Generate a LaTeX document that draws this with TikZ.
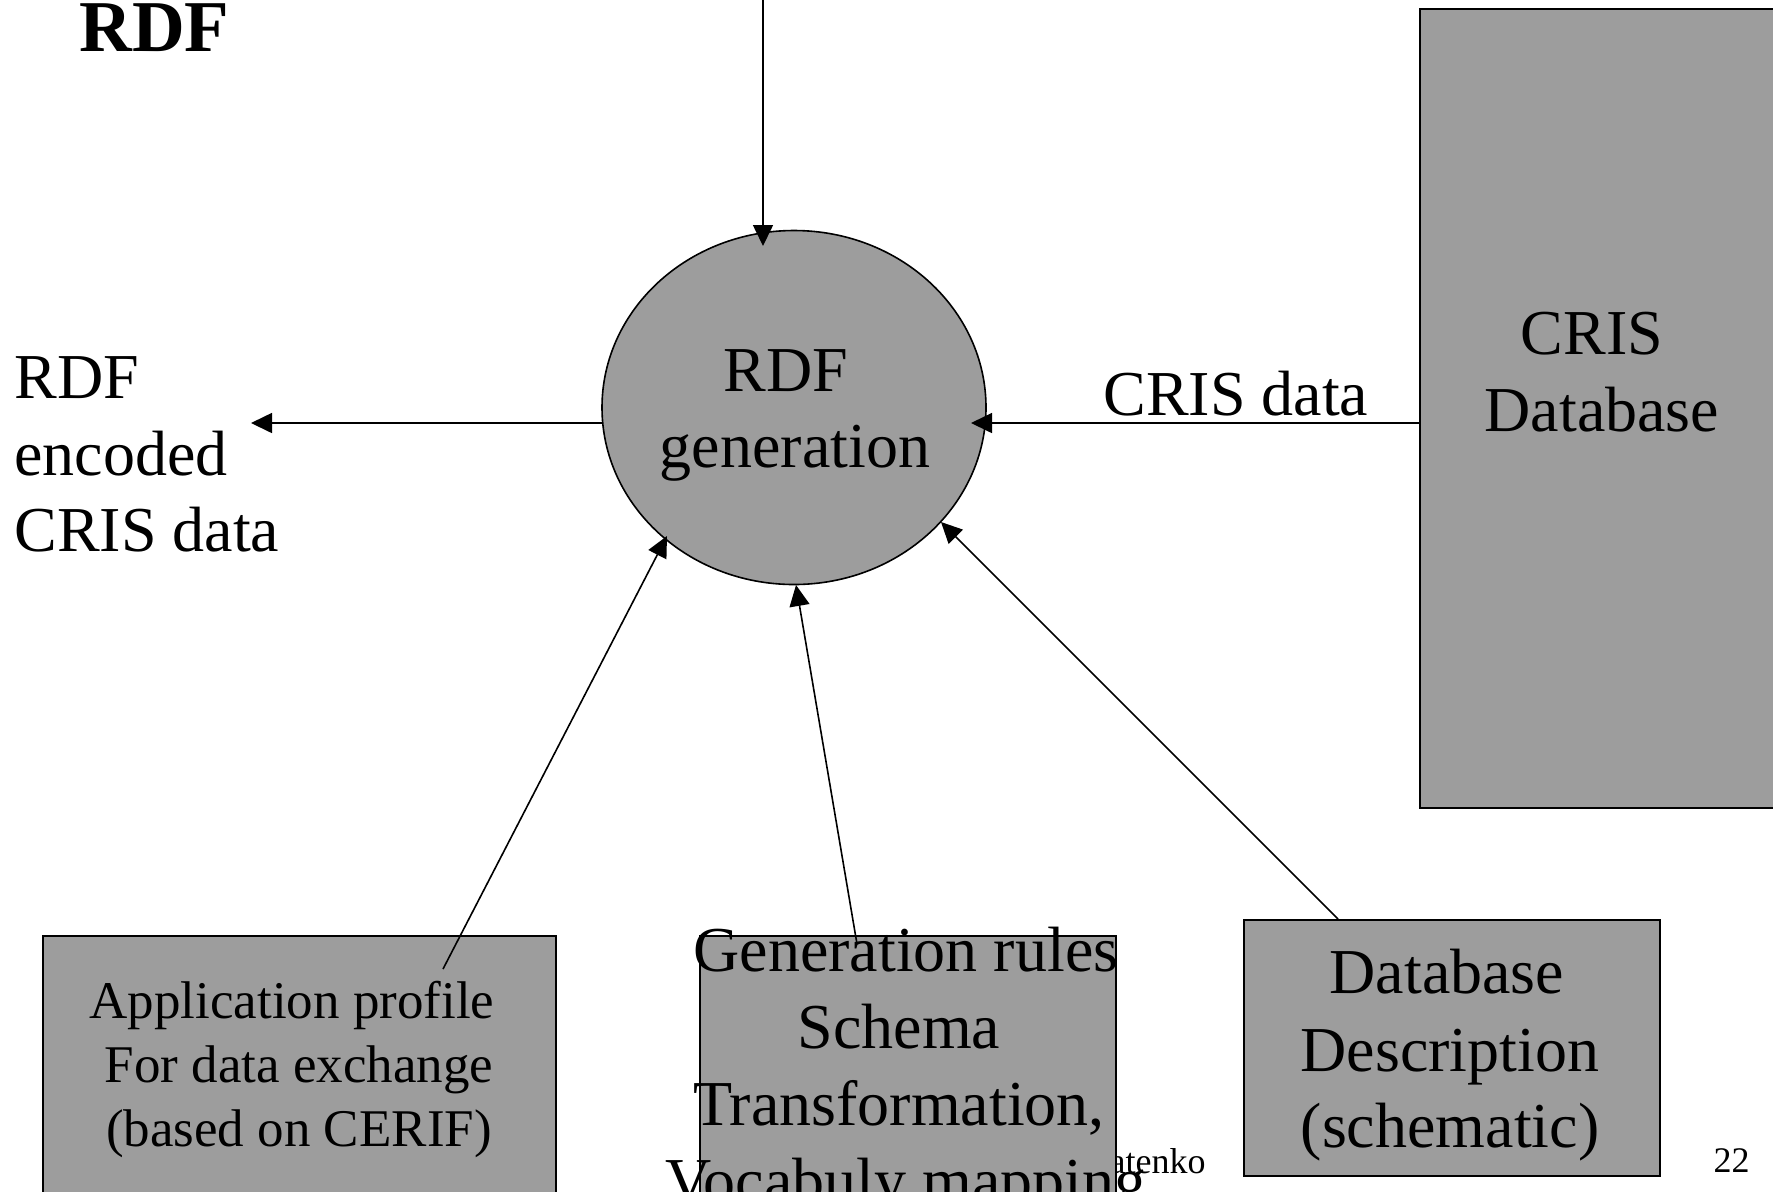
\documentclass[tikz,border=0pt]{standalone}
\usepackage{fontspec}
\setmainfont{Liberation Serif}
\usetikzlibrary{arrows.meta,shapes.geometric}
\definecolor{boxgray}{RGB}{157,157,157}
\begin{document}
\begin{tikzpicture}[x=0.5pt,y=-0.5pt,
  shapebox/.style={draw=black, line width=0.8pt, fill=boxgray, inner sep=0pt, anchor=north west},
  conn/.style={line width=0.8pt, -{Triangle[length=10.5pt,width=10pt]}},
  bigtxt/.style={font=\fontsize{32}{38.5}\selectfont, inner sep=0pt, anchor=base},
  midtxt/.style={font=\fontsize{26.5}{32}\selectfont, inner sep=0pt, anchor=base},
  smalltxt/.style={font=\fontsize{18}{21}\selectfont, inner sep=0pt, anchor=base}
]
\useasboundingbox (0,0) rectangle (1773,1191);

% title
\node[font=\fontsize{36.5}{44}\selectfont\bfseries, inner sep=0pt, anchor=base west] (title) at (79,51) {RDF};

% footer text (partly hidden by box 2)
\node[smalltxt, anchor=base east] (footer) at (1206,1173) {atenko};
\node[smalltxt, anchor=base east] (pagenum) at (1750,1172) {22};

% shapes
\node[ellipse, draw=black, line width=0.8pt, fill=boxgray, minimum width=192pt, minimum height=177pt, inner sep=0pt] (gen) at (794,407.5) {};
\node[shapebox, minimum width=185.5pt, minimum height=399.5pt] (crisdb) at (1419,8) {};
\node[shapebox, minimum width=256.5pt, minimum height=132.5pt] (appbox) at (42,935) {};
\node[shapebox, minimum width=208pt, minimum height=132.5pt] (rulebox) at (699,935) {};
\node[shapebox, minimum width=208pt, minimum height=128pt] (descbox) at (1243,919) {};

% texts
\node[bigtxt] (genl1) at (786,391) {RDF};
\node[bigtxt] (genl2) at (795,467) {generation};

\node[bigtxt, anchor=base west] (outl1) at (14,398) {RDF};
\node[bigtxt, anchor=base west] (outl2) at (14,475) {encoded};
\node[bigtxt, anchor=base west] (outl3) at (14,551) {CRIS data};

\node[bigtxt, anchor=base west] (crisdata) at (1103,415) {CRIS data};

\node[bigtxt] (dbl1) at (1592,354) {CRIS};
\node[bigtxt] (dbl2) at (1602,431) {Database};

\node[midtxt] (appl1) at (292,1018) {Application profile};
\node[midtxt] (appl2) at (299,1082) {For data exchange};
\node[midtxt] (appl3) at (299,1146) {(based on CERIF)};

\node[bigtxt] (rulel1) at (906,971) {Generation rules};
\node[bigtxt] (rulel2) at (899,1048) {Schema};
\node[bigtxt] (rulel3) at (899,1125) {Transformation,};
\node[bigtxt] (rulel4) at (906,1202) {Vocabuly mapping};

\node[bigtxt] (descl1) at (1447,993) {Database};
\node[bigtxt] (descl2) at (1450,1071) {Description};
\node[bigtxt] (descl3) at (1450,1147) {(schematic)};

% connector end points
\coordinate (topstart) at (763,-10);
\coordinate (toptip) at (763,246);
\coordinate (genW) at (603,423);
\coordinate (outtip) at (251,423);
\coordinate (cristip) at (971,423);
\coordinate (appstart) at (443,969);
\coordinate (apptip) at (667,536);
\coordinate (rulestart) at (857,944);
\coordinate (ruletip) at (796,585);
\coordinate (descstart) at (1338,919);
\coordinate (desctip) at (941,522);

% connectors
\draw[conn] (topstart) -- (toptip);
\draw[conn] (genW) -- (outtip);
\draw[conn] (crisdb.west |- cristip) -- (cristip);
\draw[conn] (appstart) -- (apptip);
\draw[conn] (rulestart) -- (ruletip);
\draw[conn] (descstart) -- (desctip);
\end{tikzpicture}
\end{document}
